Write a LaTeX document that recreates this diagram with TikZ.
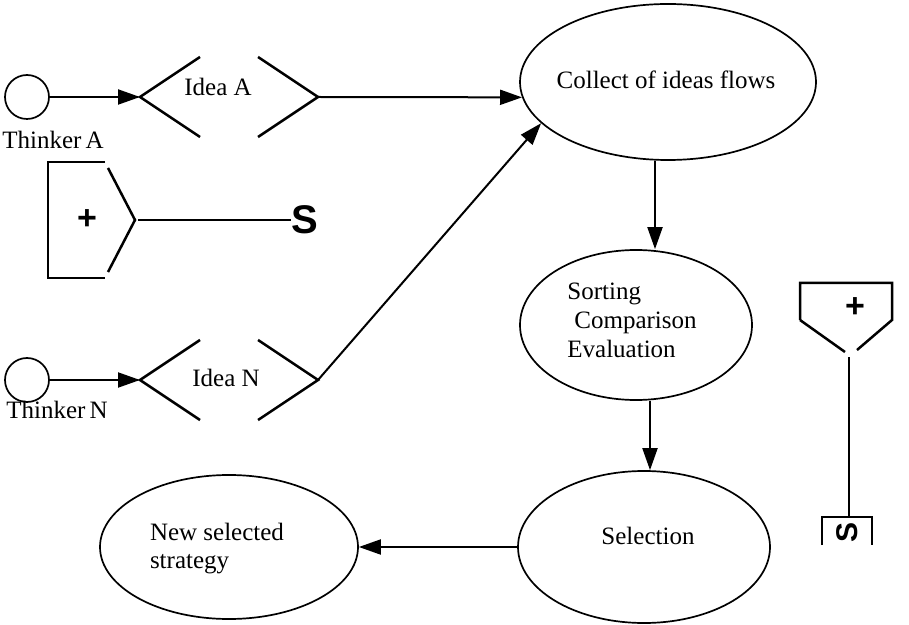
\documentclass[tikz,border=0pt]{standalone}
\usepackage{fontspec}
\setmainfont{Liberation Serif}
\newfontfamily\signfont{Liberation Sans}
\usetikzlibrary{shapes.geometric,arrows.meta}
\begin{document}
\begin{tikzpicture}[x=0.5pt,y=-0.5pt,
  line width=1pt,
  every node/.style={font=\fontsize{12.5}{14}\selectfont, inner sep=0pt},
  oval/.style={draw, ellipse, inner sep=0pt, line width=0.85pt},
  thinker/.style={draw, circle, minimum size=22pt, line width=0.85pt},
  chev/.style={line width=1.25pt},
  arr/.style={-{Triangle[length=11pt,width=7.5pt]}},
  sign/.style={font=\signfont\bfseries\fontsize{17}{17}\selectfont},
  ess/.style={font=\signfont\bfseries\fontsize{20}{20}\selectfont},
  smallness/.style={font=\signfont\bfseries\fontsize{15}{15}\selectfont},
]
\useasboundingbox (0,0) rectangle (909,625);

% --- thinker A and idea A
\node[thinker] (thA) at (27,97) {};
\node (thAlab) at (53,140) {Thinker\hspace{2pt}A};
\coordinate (iaL) at (140,97);
\coordinate (iaR) at (318,97);
\draw[chev] (200,57) -- (iaL) -- (200,137);
\draw[chev] (258,57) -- (iaR) -- (258,137);
\node (ideaA) at (218,87) {Idea A};

% --- thinker N and idea N
\node[thinker] (thN) at (27,380) {};
\node (thNlab) at (57,410) {Thinker\hspace{2pt}N};
\coordinate (inL) at (140,380);
\coordinate (inR) at (318,380);
\draw[chev] (200,340) -- (inL) -- (200,420);
\draw[chev] (258,340) -- (inR) -- (258,420);
\node (ideaN) at (226,378) {Idea N};

% --- plus block pointing right, with its S
\draw[chev] (105,162) -- (48,162) -- (48,278) -- (105,278);
\draw[chev] (108,168) -- (135,220) -- (108,272);
\node[sign] (plusL) at (87,220) {+};
\coordinate (pbTip) at (138,220);
\node[ess] (sL) at (305,220) {S};
\draw (pbTip) -- (sL.west);

% --- plus block pointing down, with its S
\draw[chev] (800,320) -- (800,283) -- (892,283) -- (892,320) -- (857,350);
\draw[chev] (800,320) -- (845,352);
\node[sign] (plusR) at (855,308) {+};
\coordinate (pgTip) at (849,357);
\draw[chev] (822,545) -- (822,517) -- (872,517) -- (872,545);
\coordinate (brTop) at (849,517);
\node[smallness, rotate=90] (sR) at (847,532) {S};
\draw (pgTip) -- (brTop);

% --- process ovals
\node[oval, minimum width=148pt, minimum height=78pt] (collect) at (668,82) {};
\node (collectText) at (666,80) {Collect of ideas flows};
\node[oval, minimum width=116pt, minimum height=75pt] (sorting) at (636,325) {};
\node[align=left, font=\fontsize{12.5}{14.5}\selectfont] (sortText) at (632,320)
  {Sorting\\\hspace*{3.5pt}Comparison\\Evaluation};
\node[oval, minimum width=126pt, minimum height=76pt] (selection) at (644,547) {};
\node (selText) at (648,536) {Selection};
\node[oval, minimum width=129pt, minimum height=72pt] (newsel) at (229,547) {};
\node[align=left] (newText) at (217,549) {New selected\\strategy};

% --- connectors
\draw[arr] (thA) -- (iaL);
\draw[arr] (thN) -- (inL);
\draw[arr] (iaR) -- (collect.186);
\draw[arr] (inR) -- (collect.198);
\draw[arr] ([xshift=-6.5pt]collect.south) -- ([xshift=9.5pt]sorting.north);
\draw[arr] ([xshift=7pt]sorting.south) -- ([xshift=3pt]selection.north);
\draw[arr] (selection.west) -- (newsel.east);
\end{tikzpicture}
\end{document}
